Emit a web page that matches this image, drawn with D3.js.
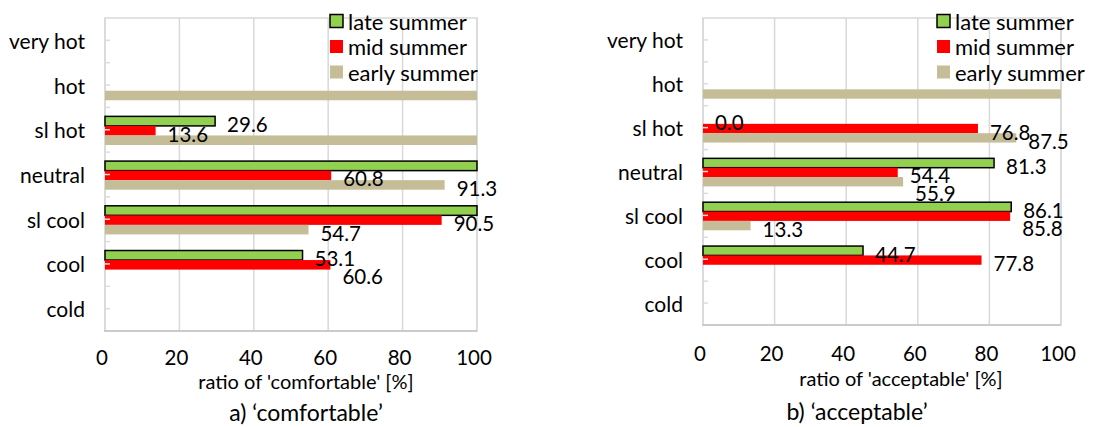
<!DOCTYPE html>
<html>
<head>
<meta charset="utf-8">
<script src="https://cdn.jsdelivr.net/npm/d3@7"></script>
<style>
  html, body { margin: 0; padding: 0; background: #fff; }
  svg { display: block; font-family: Lato, "Open Sans", sans-serif; }
</style>
</head>
<body>
<svg id="chart" width="1103" height="427"></svg>
<script>
// ---------- data ----------
const categories = ["very hot", "hot", "sl hot", "neutral", "sl cool", "cool", "cold"];
const seriesNames = ["late summer", "mid summer", "early summer"];
const xTicks = [0, 20, 40, 60, 80, 100];

// panel a) 'comfortable'
const comfortLate  = [null, null, 29.6, 100, 100, 53.1, null];
const comfortMid   = [null, null, 13.6, 60.8, 90.5, 60.6, null];
const comfortEarly = [null, 100, 100, 91.3, 54.7, null, null];

// panel b) 'acceptable'
const acceptLate  = [null, null, 0.0, 81.3, 86.1, 44.7, null];
const acceptMid   = [null, null, 76.8, 54.4, 85.8, 77.8, null];
const acceptEarly = [null, 100, 87.5, 55.9, 13.3, null, null];

const axisTitles = ["ratio of 'comfortable' [%]", "ratio of 'acceptable' [%]"];
const panelTitles = ["a) \u2018comfortable\u2019", "b) \u2018acceptable\u2019"];

// ---------- styles / layout ----------
const colors = ["#92D050", "#FF0000", "#C4BD97"];
const strokes = ["#000", "none", "none"];

const panels = [
  { series: [comfortLate, comfortMid, comfortEarly], axisTitle: axisTitles[0], title: panelTitles[0],
    left: 105, right: 477, top: 18, bottom: 331, tickY: 357, axisTitleX: 306, axisTitleY: 381,
    titleX: 306, titleY: 412, legendX: 330 },
  { series: [acceptLate, acceptMid, acceptEarly], axisTitle: axisTitles[1], title: panelTitles[1],
    left: 703, right: 1061, top: 18, bottom: 325, tickY: 353, axisTitleX: 901, axisTitleY: 378,
    titleX: 857, titleY: 411, legendX: 937 }
];

const svg = d3.select("#chart");

panels.forEach(p => {
  const g = svg.append("g");
  const x = d3.scaleLinear().domain([0, 100]).range([p.left, p.right]);
  const y = d3.scaleBand().domain(categories).range([p.top, p.bottom]);
  const bw = y.bandwidth();
  const sub = d3.scaleBand().domain(d3.range(seriesNames.length)).range([0.2 * bw, 0.84 * bw]);

  // gridlines
  g.append("g").selectAll("line").data(xTicks).join("line")
    .attr("x1", d => x(d)).attr("x2", d => x(d))
    .attr("y1", p.top).attr("y2", p.bottom)
    .attr("stroke", "#d9d9d9").attr("stroke-width", 1.5);

  // plot border
  g.append("rect").attr("x", p.left).attr("y", p.top)
    .attr("width", x(100) - x(0)).attr("height", p.bottom - p.top)
    .attr("fill", "none").attr("stroke", "#d9d9d9").attr("stroke-width", 1.5);
  g.append("line").attr("x1", p.left - 1).attr("x2", p.right).attr("y1", p.bottom).attr("y2", p.bottom)
    .attr("stroke", "#c3c3c3").attr("stroke-width", 1.5);

  // bars
  const barData = [];
  categories.forEach((cat, ci) => {
    p.series.forEach((vals, si) => {
      const v = vals[ci];
      if (v !== null) barData.push({ si, ci, v, cat });
    });
  });
  g.append("g").selectAll("rect").data(barData.filter(d => d.v > 0)).join("rect")
    .attr("x", x(0))
    .attr("y", d => y(d.cat) + sub(d.si))
    .attr("width", d => x(d.v) - x(0))
    .attr("height", sub.bandwidth())
    .attr("fill", d => colors[d.si])
    .attr("stroke", d => strokes[d.si])
    .attr("stroke-width", 1.5);

  // tick stubs on category axis (boundaries and centres)
  const stubs = [];
  categories.forEach(c => { stubs.push(y(c)); stubs.push(y(c) + bw / 2); });
  stubs.push(p.bottom);
  g.append("g").selectAll("line").data(stubs.slice(1, -1)).join("line")
    .attr("x1", p.left).attr("x2", p.left + 5)
    .attr("y1", d => d).attr("y2", d => d)
    .attr("stroke", "#dcdcdc").attr("stroke-width", 1.5);

  // category labels
  g.append("g").selectAll("text").data(categories).join("text")
    .attr("x", p.left - 20).attr("y", d => y(d) + bw / 2)
    .attr("text-anchor", "end").attr("dominant-baseline", "central")
    .attr("font-size", 21).attr("fill", "#000").text(d => d);

  // x tick labels
  g.append("g").selectAll("text").data(xTicks).join("text")
    .attr("x", d => x(d) - 3).attr("y", p.tickY)
    .attr("text-anchor", "middle").attr("dominant-baseline", "central")
    .attr("font-size", 20.5).attr("fill", "#000").text(d => d);

  // axis title
  g.append("text").attr("x", p.axisTitleX).attr("y", p.axisTitleY)
    .attr("text-anchor", "middle").attr("dominant-baseline", "central")
    .attr("font-size", 20).attr("fill", "#000").text(p.axisTitle);

  // panel title
  g.append("text").attr("x", p.titleX).attr("y", p.titleY)
    .attr("text-anchor", "middle").attr("dominant-baseline", "central")
    .attr("font-size", 23).attr("fill", "#000").text(p.title);

  // data labels (hide labels of full 100% bars), overlap avoidance within each category
  const labelData = barData.filter(d => d.v < 100);
  const labels = g.append("g").selectAll("text").data(labelData).join("text")
    .attr("x", d => x(d.v) + 12)
    .attr("y", d => y(d.cat) + sub(d.si) + sub.bandwidth() / 2 + 3)
    .attr("dominant-baseline", "central")
    .attr("font-size", 20.5).attr("fill", "#000")
    .text(d => d.v.toFixed(1));
  const placed = [];
  labels.each(function(d) {
    const w = this.getComputedTextLength();
    let x0 = +this.getAttribute("x"), yc = +this.getAttribute("y");
    const h = 18, tol = 3;
    let moved = true;
    while (moved) {
      moved = false;
      for (const q of placed) {
        if (q.ci !== d.ci) continue;
        if (x0 < q.x + q.w - tol && q.x < x0 + w - tol && Math.abs(yc - q.y) < h) {
          yc = q.y + h; moved = true;
        }
      }
    }
    d3.select(this).attr("y", yc);
    placed.push({ x: x0, y: yc, w, ci: d.ci });
  });

  // legend
  const lg = g.append("g");
  seriesNames.forEach((s, i) => {
    const ly = 21 + i * 25.5;
    lg.append("rect").attr("x", p.legendX).attr("y", ly - 6.5)
      .attr("width", 13).attr("height", 13)
      .attr("fill", colors[i]).attr("stroke", strokes[i]).attr("stroke-width", 1.5);
    lg.append("text").attr("x", p.legendX + 18).attr("y", ly)
      .attr("dominant-baseline", "central").attr("font-size", 22).attr("fill", "#000").text(s);
  });
});
</script>
</body>
</html>
